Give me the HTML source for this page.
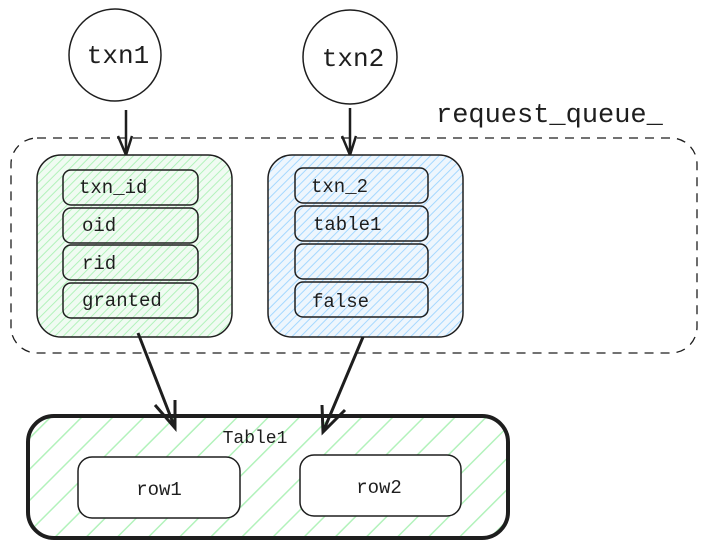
<!DOCTYPE html>
<html><head><meta charset="utf-8"><style>
html,body{margin:0;padding:0;background:#fff;}
svg{display:block;}
text{font-family:"Liberation Mono",monospace;fill:#1e1e1e;}
</style></head><body>
<svg width="706" height="548" viewBox="0 0 706 548" xmlns="http://www.w3.org/2000/svg">
<defs>
<pattern id="hg" width="6" height="6" patternUnits="userSpaceOnUse" patternTransform="rotate(45)">
<rect width="6" height="6" fill="#f0fbf2"/><line x1="0" y1="0" x2="0" y2="6" stroke="#b2f2bb" stroke-width="2"/></pattern>
<pattern id="hb" width="6" height="6" patternUnits="userSpaceOnUse" patternTransform="rotate(45)">
<rect width="6" height="6" fill="#eef6fd"/><line x1="0" y1="0" x2="0" y2="6" stroke="#a5d8ff" stroke-width="2"/></pattern>
<pattern id="ht" width="22" height="22" patternUnits="userSpaceOnUse" patternTransform="rotate(45)">
<line x1="0" y1="0" x2="0" y2="22" stroke="#b2f2bb" stroke-width="3"/></pattern>
</defs>
<circle cx="115" cy="55" r="46" fill="#fff" stroke="#1e1e1e" stroke-width="1.5"/>
<text x="118" y="63" font-size="26" text-anchor="middle">txn1</text>
<circle cx="350" cy="57" r="47" fill="#fff" stroke="#1e1e1e" stroke-width="1.5"/>
<text x="353" y="66" font-size="26" text-anchor="middle">txn2</text>
<text x="436" y="122" font-size="27">request_queue_</text>
<rect x="11" y="138" width="686" height="215" rx="26" fill="none" stroke="#1e1e1e" stroke-width="1.3" stroke-dasharray="9 7"/>
<path d="M126 110 L126 155 M118 136 L126 155 L132 136" fill="none" stroke="#1e1e1e" stroke-width="2.5"/>
<path d="M350 108 L350 155 M342 136 L350 155 L356 136" fill="none" stroke="#1e1e1e" stroke-width="2.5"/>
<rect x="37" y="155" width="195" height="182" rx="24" fill="url(#hg)" stroke="#1e1e1e" stroke-width="1.5"/>
<rect x="268" y="155" width="195" height="182" rx="24" fill="url(#hb)" stroke="#1e1e1e" stroke-width="1.5"/>
<g fill="none" stroke="#1e1e1e" stroke-width="1.5">
<rect x="63" y="170" width="135" height="35" rx="8"/>
<rect x="63" y="208" width="135" height="35" rx="8"/>
<rect x="63" y="245" width="135" height="35" rx="8"/>
<rect x="63" y="283" width="135" height="35" rx="8"/>
<rect x="295" y="168" width="133" height="35" rx="8"/>
<rect x="295" y="206" width="133" height="35" rx="8"/>
<rect x="295" y="244" width="133" height="35" rx="8"/>
<rect x="295" y="282" width="133" height="35" rx="8"/>
</g>
<g font-size="19">
<text x="79" y="193">txn_id</text>
<text x="82" y="231">oid</text>
<text x="82" y="269">rid</text>
<text x="82" y="306">granted</text>
<text x="311" y="192">txn_2</text>
<text x="313" y="230">table1</text>
<text x="312" y="307">false</text>
</g>
<rect x="28" y="416" width="480" height="122" rx="26" fill="url(#ht)" stroke="#1e1e1e" stroke-width="4"/>
<path d="M138 333 L175 428 M155 405 L175 428 L175 400" fill="none" stroke="#1e1e1e" stroke-width="3"/>
<path d="M363 337 L323 432 M322 405 L323 432 L345 410" fill="none" stroke="#1e1e1e" stroke-width="3"/>
<text x="255" y="443" font-size="18" text-anchor="middle">Table1</text>
<rect x="78" y="457" width="162" height="61" rx="14" fill="#fff" stroke="#1e1e1e" stroke-width="1.5"/>
<rect x="300" y="455" width="161" height="61" rx="14" fill="#fff" stroke="#1e1e1e" stroke-width="1.5"/>
<text x="159" y="495" font-size="19" text-anchor="middle">row1</text>
<text x="379" y="493" font-size="19" text-anchor="middle">row2</text>
</svg>
</body></html>
